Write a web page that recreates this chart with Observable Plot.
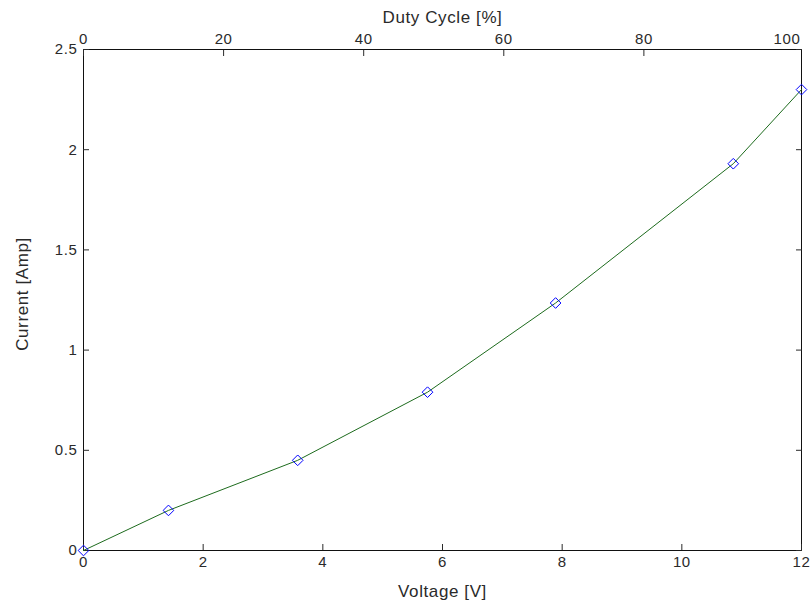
<!DOCTYPE html>
<html><head><meta charset="utf-8">
<script src="https://cdn.jsdelivr.net/npm/d3@7"></script>
<script src="https://cdn.jsdelivr.net/npm/@observablehq/plot@0.6"></script>
<style>body{margin:0;background:#fff} #chart svg text{letter-spacing:0.6px}</style>
</head><body><div id="chart"></div>
<script>
// Data
const voltage = [0, 1.42, 3.58, 5.75, 7.89, 10.86, 12];
const current = [0, 0.2, 0.45, 0.79, 1.235, 1.93, 2.3];
const voltageTicks = [0, 2, 4, 6, 8, 10, 12];
const currentTicks = [0, 0.5, 1, 1.5, 2, 2.5];
const dutyTicks = [0, 20, 40, 60, 80];
const dutyEndLabel = [100];
const dutyAtMaxVoltage = 102.5;
const voltageMax = 12;
const xTitle = "Voltage [V]";
const yTitle = "Current [Amp]";
const topTitle = "Duty Cycle [%]";

const data = voltage.map((v, i) => ({v, c: current[i]}));
const dutyToV = d => d * voltageMax / dutyAtMaxVoltage;
const vToDuty = v => Math.round(v * dutyAtMaxVoltage / voltageMax);

const chart = Plot.plot({
  width: 810, height: 606,
  marginLeft: 83, marginRight: 9, marginTop: 49, marginBottom: 56,
  style: {fontFamily: "Arial, 'Liberation Sans', sans-serif", fontSize: "15px", color: "#2a2a2a", background: "#fff"},
  x: {domain: [0, voltageMax], label: null},
  y: {domain: [0, 2.5], label: null},
  marks: [
    Plot.frame({stroke: "#111"}),
    Plot.axisX(voltageTicks, {anchor: "bottom", tickSize: -6, tickPadding: 12, label: null, tickFormat: d => String(d)}),
    Plot.axisX(dutyTicks.map(dutyToV), {anchor: "top", tickSize: -6, tickPadding: 12, label: null, tickFormat: vToDuty}),
    Plot.axisX(dutyEndLabel.map(dutyToV), {anchor: "top", tickSize: 0, tickPadding: 6, dx: 3, label: null, tickFormat: vToDuty}),
    Plot.axisY(currentTicks, {anchor: "left", tickSize: -6, tickPadding: 12, label: null, tickFormat: d => String(d)}),
    Plot.axisY(currentTicks, {anchor: "right", tickSize: -6, fill: "none", label: null}),
    Plot.line(data, {x: "v", y: "c", stroke: "#1d6b1d", strokeWidth: 1}),
    Plot.dot(data, {x: "v", y: "c", symbol: "diamond2", r: 4.8, fill: "none", stroke: "blue", strokeWidth: 1}),
    Plot.text([xTitle], {frameAnchor: "bottom", dy: 41, fontSize: 17, lineAnchor: "middle", textAnchor: "middle", fill: "#2a2a2a"}),
    Plot.text([topTitle], {frameAnchor: "top", dy: -32, fontSize: 17, lineAnchor: "middle", textAnchor: "middle", fill: "#2a2a2a"}),
    Plot.text([yTitle], {frameAnchor: "left", dx: -61, dy: -6, rotate: -90, fontSize: 17, lineAnchor: "middle", textAnchor: "middle", fill: "#2a2a2a"})
  ]
});
document.getElementById("chart").append(chart);
</script>
</body></html>
